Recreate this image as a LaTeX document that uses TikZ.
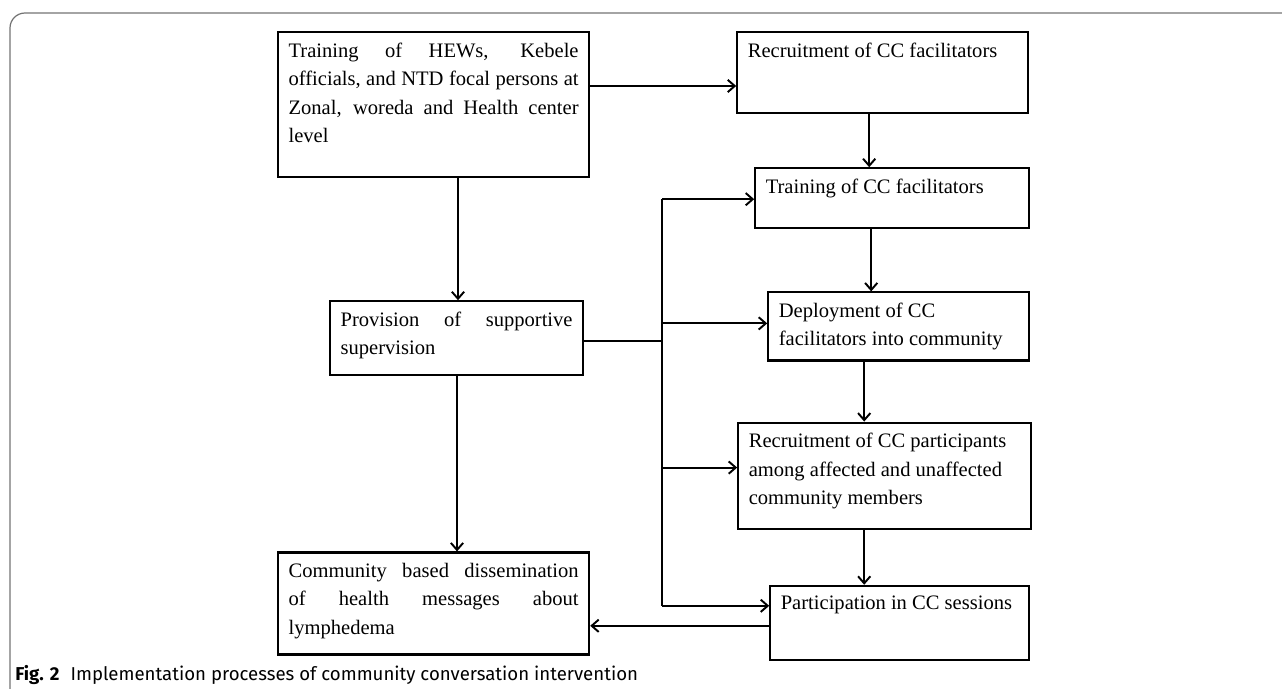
\documentclass[tikz,border=0pt]{standalone}
\usepackage{fontspec}
\setmainfont{Liberation Serif}
\newfontfamily\capfont{Fira Sans}
\usetikzlibrary{arrows.meta, positioning}
\tikzstyle{process} = [rectangle, draw=black, line width=1.2pt, inner sep=6pt, font=\fontsize{11.7}{16.2}\selectfont]
\tikzstyle{arrowline} = [line width=1.1pt, -{Straight Barb[length=4pt, width=7pt]}]
\tikzstyle{plainline} = [line width=1.1pt]
\newcommand{\boxtext}[3]{\parbox[t][#2][t]{#1}{#3}}
\newcommand{\boxtextr}[3]{\parbox[t][#2][t]{#1}{\raggedright #3}}

\begin{document}
\begin{tikzpicture}
\useasboundingbox (0,0) rectangle (25.64,-13.78);
\draw [black!55, line width=0.7pt, rounded corners=0.3cm] (0.2,-14) -- (0.2,-0.26) -- (26,-0.26);

\node (trainhew) [process, anchor=north west] at (5.54,-0.62) {\boxtext{5.80cm}{2.48cm}{Training of HEWs, Kebele\linebreak officials, and NTD focal persons at\linebreak Zonal, woreda and Health center\linebreak level}};
\node (recruitcc) [process, right=2.92cm of trainhew.north east, anchor=north west] {\boxtextr{5.40cm}{1.20cm}{Recruitment of CC facilitators}};
\node (trainccf) [process, below=1.06cm of recruitcc.south west, anchor=north west, xshift=0.36cm] {\boxtextr{5.06cm}{0.78cm}{Training of CC facilitators}};
\node (deploy) [process, below=1.24cm of trainccf.south west, anchor=north west, xshift=0.26cm] {\boxtextr{4.80cm}{0.94cm}{Deployment of CC\\ facilitators into community}};
\node (recruitpart) [process, below=1.20cm of deploy.south west, anchor=north west, xshift=-0.60cm] {\boxtextr{5.44cm}{1.70cm}{Recruitment of CC participants\\ among affected and unaffected\\ community members}};
\node (session) [process, below=1.10cm of recruitpart.south west, anchor=north west, xshift=0.64cm] {\boxtextr{4.76cm}{1.06cm}{Participation in CC sessions}};
\node (supervise) [process, below=2.44cm of trainhew.south west, anchor=north west, xshift=1.04cm] {\boxtext{4.64cm}{1.06cm}{Provision of supportive\linebreak supervision}};
\node (dissem) [process, below=3.50cm of supervise.south west, anchor=north west, xshift=-1.04cm] {\boxtext{5.80cm}{1.62cm}{Community based dissemination\linebreak of health messages about\linebreak lymphedema}};

% main chain on the right
\coordinate (ab) at ([yshift=-1.10cm]trainhew.north east);
\draw [arrowline] (ab) -- (ab -| recruitcc.west);
\draw [arrowline] ([xshift=2.66cm]recruitcc.south west) -- ([xshift=2.66cm]recruitcc.south west |- trainccf.north);
\draw [arrowline] ([xshift=2.34cm]trainccf.south west) -- ([xshift=2.34cm]trainccf.south west |- deploy.north);
\draw [arrowline] ([xshift=1.94cm]deploy.south west) -- ([xshift=1.94cm]deploy.south west |- recruitpart.north);
\draw [arrowline] ([xshift=2.54cm]recruitpart.south west) -- ([xshift=2.54cm]recruitpart.south west |- session.north);

% left column
\draw [arrowline] ([xshift=3.62cm]trainhew.south west) -- ([xshift=3.62cm]trainhew.south west |- supervise.north);
\draw [arrowline] ([xshift=2.56cm]supervise.south west) -- ([xshift=2.56cm]supervise.south west |- dissem.north);

% supervision bus
\coordinate (hout) at ([yshift=-0.82cm]supervise.north east);
\coordinate (bus) at ([xshift=1.56cm]hout);
\coordinate (cin) at ([yshift=-0.64cm]trainccf.north west);
\coordinate (din) at ([yshift=-0.64cm]deploy.north west);
\coordinate (ein) at ([yshift=-0.92cm]recruitpart.north west);
\coordinate (fin) at ([yshift=-0.42cm]session.north west);
\draw [plainline] (hout) -- (bus);
\draw [plainline] (cin -| bus) -- (fin -| bus);
\draw [arrowline] (cin -| bus) -- (cin);
\draw [arrowline] (din -| bus) -- (din);
\draw [arrowline] (ein -| bus) -- (ein);
\draw [arrowline] (fin -| bus) -- (fin);

% back to dissemination
\coordinate (fout) at ([yshift=-0.82cm]session.north west);
\draw [arrowline] (fout) -- (fout -| dissem.east);

\node (caption) [anchor=base west, inner sep=0pt, font=\capfont\fontsize{10.6}{12}\selectfont] at (0.30,-13.60) {\textbf{Fig. 2}\hspace{0.6em}Implementation processes of community conversation intervention};
\end{tikzpicture}
\end{document}
